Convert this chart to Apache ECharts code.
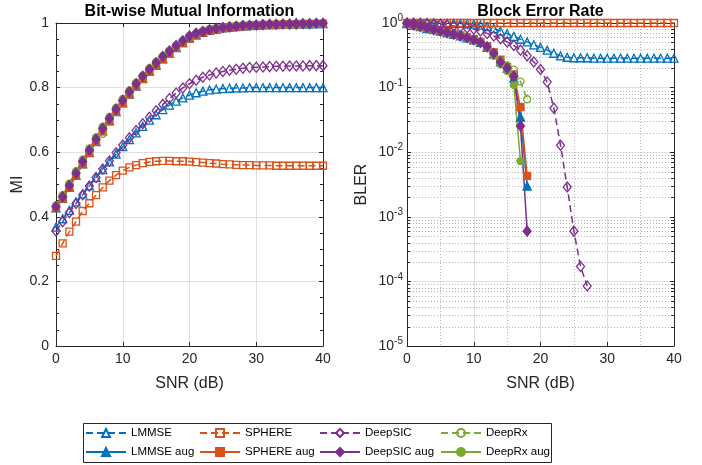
<!DOCTYPE html>
<html>
<head>
<meta charset="utf-8">
<script src="https://cdn.jsdelivr.net/npm/echarts@6/dist/echarts.min.js"></script>
<style>
  html, body { margin: 0; padding: 0; background: #ffffff; }
  #chart { width: 702px; height: 465px; }
</style>
</head>
<body>
<div id="chart"></div>
<script>
// SNR sweep (dB)
const snr = [0,1,2,3,4,5,6,7,8,9,10,11,12,13,14,15,16,17,18,19,20,21,22,23,24,25,26,27,28,29,30,31,32,33,34,35,36,37,38,39,40];

// Bit-wise mutual information per receiver
const miLmmse = [0.368,0.394,0.420,0.446,0.471,0.496,0.521,0.546,0.570,0.594,0.617,0.639,0.660,0.680,0.699,0.716,0.732,0.746,0.758,0.768,0.777,0.784,0.789,0.793,0.795,0.797,0.798,0.799,0.799,0.800,0.800,0.800,0.800,0.800,0.800,0.800,0.800,0.800,0.800,0.800,0.800];
const miLmmseAug = [0.428,0.457,0.491,0.528,0.564,0.599,0.633,0.666,0.697,0.726,0.753,0.780,0.805,0.828,0.850,0.870,0.889,0.907,0.924,0.939,0.953,0.963,0.971,0.977,0.981,0.985,0.987,0.989,0.991,0.992,0.993,0.994,0.995,0.995,0.996,0.996,0.997,0.997,0.997,0.998,0.998];
const miSphere = [0.279,0.318,0.354,0.385,0.418,0.442,0.467,0.491,0.512,0.529,0.543,0.553,0.560,0.566,0.570,0.572,0.573,0.573,0.572,0.572,0.571,0.569,0.568,0.566,0.565,0.563,0.562,0.561,0.560,0.560,0.559,0.559,0.559,0.558,0.558,0.558,0.558,0.558,0.558,0.558,0.558];
const miSphereAug = [0.427,0.456,0.490,0.527,0.563,0.598,0.632,0.665,0.696,0.725,0.752,0.779,0.804,0.827,0.849,0.869,0.888,0.906,0.923,0.938,0.952,0.962,0.970,0.976,0.981,0.984,0.987,0.989,0.990,0.992,0.993,0.994,0.994,0.995,0.995,0.996,0.996,0.997,0.997,0.997,0.998];
const miDeepSIC = [0.356,0.385,0.413,0.441,0.468,0.495,0.522,0.548,0.573,0.598,0.622,0.645,0.667,0.688,0.708,0.728,0.748,0.766,0.783,0.799,0.812,0.823,0.832,0.839,0.845,0.850,0.854,0.857,0.860,0.862,0.863,0.864,0.865,0.866,0.866,0.867,0.867,0.867,0.868,0.868,0.868];
const miDeepSICAug = [0.431,0.462,0.497,0.535,0.571,0.606,0.640,0.673,0.704,0.733,0.760,0.787,0.812,0.835,0.857,0.877,0.896,0.913,0.930,0.945,0.960,0.968,0.974,0.979,0.983,0.986,0.988,0.990,0.992,0.993,0.994,0.995,0.996,0.996,0.997,0.997,0.998,0.998,0.998,0.999,0.999];
const miDeepRx = [0.432,0.463,0.498,0.536,0.572,0.606,0.640,0.657,0.703,0.733,0.760,0.787,0.812,0.835,0.857,0.877,0.895,0.912,0.929,0.944,0.957,0.967,0.975,0.981,0.985,0.988,0.990,0.992,0.993,0.994,0.995,0.995,0.996,0.996,0.994,0.993,0.993,0.995,0.996,0.997,0.997];
const miDeepRxAug = [0.435,0.467,0.503,0.541,0.577,0.612,0.646,0.679,0.709,0.738,0.765,0.791,0.815,0.838,0.860,0.880,0.898,0.915,0.931,0.946,0.960,0.969,0.975,0.980,0.984,0.987,0.989,0.991,0.992,0.993,0.994,0.995,0.995,0.996,0.996,0.997,0.997,0.997,0.998,0.998,0.998];

// Block error rate per receiver (curves stop once no errors are counted)
const blerLmmse = [1.0,1.0,1.0,1.0,0.995,0.995,0.99,0.99,0.985,0.98,0.96,0.93,0.88,0.82,0.75,0.68,0.62,0.56,0.51,0.46,0.42,0.38,0.34,0.31,0.295,0.29,0.29,0.29,0.285,0.285,0.285,0.285,0.285,0.285,0.285,0.285,0.285,0.285,0.285,0.285,0.285];
const blerLmmseAug = [0.98,0.93,0.88,0.83,0.79,0.75,0.71,0.67,0.63,0.59,0.55,0.5,0.42,0.33,0.25,0.2,0.14,0.035,0.003];
const blerSphere = [1,1,1,1,1,1,1,1,1,1,1,1,1,1,1,1,1,1,1,1,1,1,1,1,1,1,1,1,1,1,1,1,1,1,1,1,1,1,1,1,1];
const blerSphereAug = [0.99,0.94,0.89,0.84,0.8,0.76,0.72,0.68,0.64,0.6,0.56,0.51,0.44,0.35,0.27,0.21,0.16,0.05,0.0043];
const blerDeepSIC = [1.0,0.995,0.99,0.98,0.97,0.95,0.93,0.9,0.87,0.84,0.8,0.75,0.69,0.63,0.57,0.51,0.45,0.38,0.31,0.25,0.19,0.122,0.048,0.0128,0.0029,0.0006,0.00017,0.000085];
const blerDeepSICAug = [0.98,0.93,0.88,0.84,0.79,0.75,0.71,0.67,0.63,0.59,0.55,0.5,0.43,0.34,0.25,0.2,0.15,0.0255,0.0006];
const blerDeepRx = [0.99,0.94,0.89,0.84,0.8,0.76,0.72,0.68,0.64,0.6,0.56,0.51,0.43,0.34,0.26,0.22,0.19,0.124,0.066];
const blerDeepRxAug = [0.98,0.92,0.87,0.82,0.78,0.74,0.7,0.66,0.62,0.58,0.54,0.49,0.41,0.31,0.23,0.18,0.11,0.0073];

// Axis tick values
const snrTicks = [0, 10, 20, 30, 40];
const miTicks = [0, 0.2, 0.4, 0.6, 0.8, 1];
const blerDecades = [-5, -4, -3, -2, -1, 0];

const FONT = '"Liberation Sans", Arial, Helvetica, sans-serif';
const INK = '#262626';
const GRID_COLOR = '#dfdfdf';
const MINOR_GRID_COLOR = '#b4b4b4';
const BLUE = '#0072BD', ORANGE = '#D95319', PURPLE = '#7E2F8E', GREEN = '#77AC30';

const X_MIN = snrTicks[0], X_MAX = snrTicks[snrTicks.length - 1];
const Y_LOG_MIN = Math.pow(10, blerDecades[0]);
const Y_LOG_MAX = Math.pow(10, blerDecades[blerDecades.length - 1]);

// log-axis minor positions: 2..9 times each decade
const logMinor = [];
blerDecades.slice(0, -1).forEach(e => {
  for (let k = 2; k <= 9; k++) logMinor.push(k * Math.pow(10, e));
});

function pairs(ys) { return ys.map((v, i) => [snr[i], v]); }

function curve(name, color, symbol, size, filled, dashed, ys, ax) {
  return {
    type: 'line', name,
    xAxisIndex: ax, yAxisIndex: ax,
    data: pairs(ys),
    symbol, symbolSize: size, showSymbol: true, showAllSymbol: true,
    clip: false,
    lineStyle: { color, width: 1.5, type: dashed ? [7, 4] : 'solid' },
    itemStyle: { color: filled ? color : 'rgba(255,255,255,0)', borderColor: color, borderWidth: 1.3 },
    emphasis: { disabled: true },
    z: 3
  };
}

// axis index 0 -> left panel, 2 -> right panel (1 and 3 are the mirrored top/right axes)
function seriesSet(ax, d) {
  return [
    curve('LMMSE', BLUE, 'triangle', 8, false, true, d[0], ax),
    curve('LMMSE aug', BLUE, 'triangle', 8, true, false, d[1], ax),
    curve('SPHERE', ORANGE, 'rect', 7, false, true, d[2], ax),
    curve('SPHERE aug', ORANGE, 'rect', 7, true, false, d[3], ax),
    curve('DeepRx', GREEN, 'circle', 7, false, true, d[6], ax),
    curve('DeepRx aug', GREEN, 'circle', 7, true, false, d[7], ax),
    curve('DeepSIC', PURPLE, 'diamond', [8, 10], false, true, d[4], ax),
    curve('DeepSIC aug', PURPLE, 'diamond', [8, 10], true, false, d[5], ax)
  ];
}

const tickLabel = { fontFamily: FONT, fontSize: 14, color: INK };

function xAxes(grid, minorGrid) {
  return [
    {
      type: 'value', gridIndex: grid, position: 'bottom',
      min: X_MIN, max: X_MAX, interval: 10,
      axisLine: { show: true, onZero: false, lineStyle: { color: INK, width: 1 } },
      axisTick: { show: true, inside: true, length: 4, lineStyle: { color: INK } },
      axisLabel: Object.assign({ margin: 6 }, tickLabel),
      splitLine: { show: true, showMinLine: false, showMaxLine: false, lineStyle: { color: GRID_COLOR, width: 1 } },
      minorTick: { show: false, splitNumber: 2 },
      minorSplitLine: { show: minorGrid, lineStyle: { color: MINOR_GRID_COLOR, width: 1, type: [1, 2] } },
      name: 'SNR (dB)', nameLocation: 'middle', nameGap: 30,
      nameTextStyle: { fontFamily: FONT, fontSize: 16, color: INK }
    },
    {
      type: 'value', gridIndex: grid, position: 'top',
      min: X_MIN, max: X_MAX, interval: 10,
      axisLine: { show: true, onZero: false, lineStyle: { color: INK, width: 1 } },
      axisTick: { show: true, inside: true, length: 4, lineStyle: { color: INK } },
      axisLabel: { show: false },
      splitLine: { show: false }
    }
  ];
}

const option = {
  backgroundColor: '#ffffff',
  animation: false,
  grid: [
    { left: 56, top: 23, width: 267, height: 323 },
    { left: 407, top: 23, width: 267, height: 323 }
  ],
  xAxis: [].concat(xAxes(0, false), xAxes(1, true)),
  yAxis: [
    {
      type: 'value', gridIndex: 0, position: 'left',
      min: miTicks[0], max: miTicks[miTicks.length - 1], interval: 0.2,
      axisLine: { show: true, onZero: false, lineStyle: { color: INK, width: 1 } },
      axisTick: { show: true, inside: true, length: 4, lineStyle: { color: INK } },
      minorTick: { show: true, splitNumber: 4, length: 3, lineStyle: { color: INK } },
      axisLabel: Object.assign({ margin: 7 }, tickLabel),
      splitLine: { show: true, showMinLine: false, showMaxLine: false, lineStyle: { color: GRID_COLOR, width: 1 } },
      name: 'MI', nameLocation: 'middle', nameGap: 29,
      nameTextStyle: { fontFamily: FONT, fontSize: 16, color: INK }
    },
    {
      type: 'value', gridIndex: 0, position: 'right',
      min: miTicks[0], max: miTicks[miTicks.length - 1], interval: 0.2,
      axisLine: { show: true, onZero: false, lineStyle: { color: INK, width: 1 } },
      axisTick: { show: true, inside: true, length: 4, lineStyle: { color: INK } },
      minorTick: { show: true, splitNumber: 4, length: 3, lineStyle: { color: INK } },
      axisLabel: { show: false },
      splitLine: { show: false }
    },
    {
      type: 'log', logBase: 10, gridIndex: 1, position: 'left',
      min: Y_LOG_MIN, max: Y_LOG_MAX,
      axisLine: { show: true, onZero: false, lineStyle: { color: INK, width: 1 } },
      axisTick: { show: true, inside: true, length: 4, lineStyle: { color: INK } },
      axisLabel: {
        margin: 4,
        formatter: v => '{b|10}{s|' + Math.round(Math.log10(v)) + '}',
        rich: {
          b: { fontFamily: FONT, fontSize: 14, color: INK },
          s: { fontFamily: FONT, fontSize: 10, color: INK, padding: [0, 0, 9, 0] }
        }
      },
      splitLine: { show: true, showMinLine: false, showMaxLine: false, lineStyle: { color: GRID_COLOR, width: 1 } },
      name: 'BLER', nameLocation: 'middle', nameGap: 37,
      nameTextStyle: { fontFamily: FONT, fontSize: 16, color: INK }
    },
    {
      type: 'log', logBase: 10, gridIndex: 1, position: 'right',
      min: Y_LOG_MIN, max: Y_LOG_MAX,
      axisLine: { show: true, onZero: false, lineStyle: { color: INK, width: 1 } },
      axisTick: { show: true, inside: true, length: 4, lineStyle: { color: INK } },
      axisLabel: { show: false },
      splitLine: { show: false }
    }
  ],
  legend: [
    ['LMMSE', 'LMMSE aug', 85],
    ['SPHERE', 'SPHERE aug', 199],
    ['DeepSIC', 'DeepSIC aug', 319],
    ['DeepRx', 'DeepRx aug', 440]
  ].map(([a, b, x]) => ({
    data: [a, b], left: x, top: 427, orient: 'vertical',
    itemWidth: 40, itemHeight: 10, itemGap: 7, padding: 0,
    selectedMode: false,
    textStyle: { fontFamily: FONT, fontSize: 11.5, color: '#000' }
  })),
  graphic: [
    { type: 'text', x: 189.5, y: 12, z: 10,
      style: { text: 'Bit-wise Mutual Information', font: 'bold 16px ' + FONT, fill: '#000', textAlign: 'center', textVerticalAlign: 'middle' } },
    { type: 'text', x: 540.5, y: 12, z: 10,
      style: { text: 'Block Error Rate', font: 'bold 16px ' + FONT, fill: '#000', textAlign: 'center', textVerticalAlign: 'middle' } },
    { type: 'rect', left: 83, top: 423, z: -1,
      shape: { width: 468, height: 39 },
      style: { fill: '#ffffff', stroke: INK, lineWidth: 1 } }
  ],
  series: [].concat(
    [{
      // dotted minor grid and minor ticks of the log axis
      type: 'custom', xAxisIndex: 2, yAxisIndex: 2, z: 1, silent: true,
      data: logMinor.map(v => [X_MIN, v]),
      renderItem: (params, api) => {
        const v = api.value(1);
        const p0 = api.coord([X_MIN, v]);
        const p1 = api.coord([X_MAX, v]);
        const y = Math.round(p0[1]) + 0.5;
        return {
          type: 'group', children: [
            { type: 'line', shape: { x1: p0[0], y1: y, x2: p1[0], y2: y },
              style: { stroke: MINOR_GRID_COLOR, lineWidth: 1, lineDash: [1, 2] } },
            { type: 'line', shape: { x1: p0[0], y1: y, x2: p0[0] + 3, y2: y },
              style: { stroke: INK, lineWidth: 1 } },
            { type: 'line', shape: { x1: p1[0] - 3, y1: y, x2: p1[0], y2: y },
              style: { stroke: INK, lineWidth: 1 } }
          ]
        };
      }
    }],
    seriesSet(0, [miLmmse, miLmmseAug, miSphere, miSphereAug, miDeepSIC, miDeepSICAug, miDeepRx, miDeepRxAug]),
    seriesSet(2, [blerLmmse, blerLmmseAug, blerSphere, blerSphereAug, blerDeepSIC, blerDeepSICAug, blerDeepRx, blerDeepRxAug])
  )
};

const chart = echarts.init(document.getElementById('chart'), null, { renderer: 'canvas' });
chart.setOption(option);
</script>
</body>
</html>
